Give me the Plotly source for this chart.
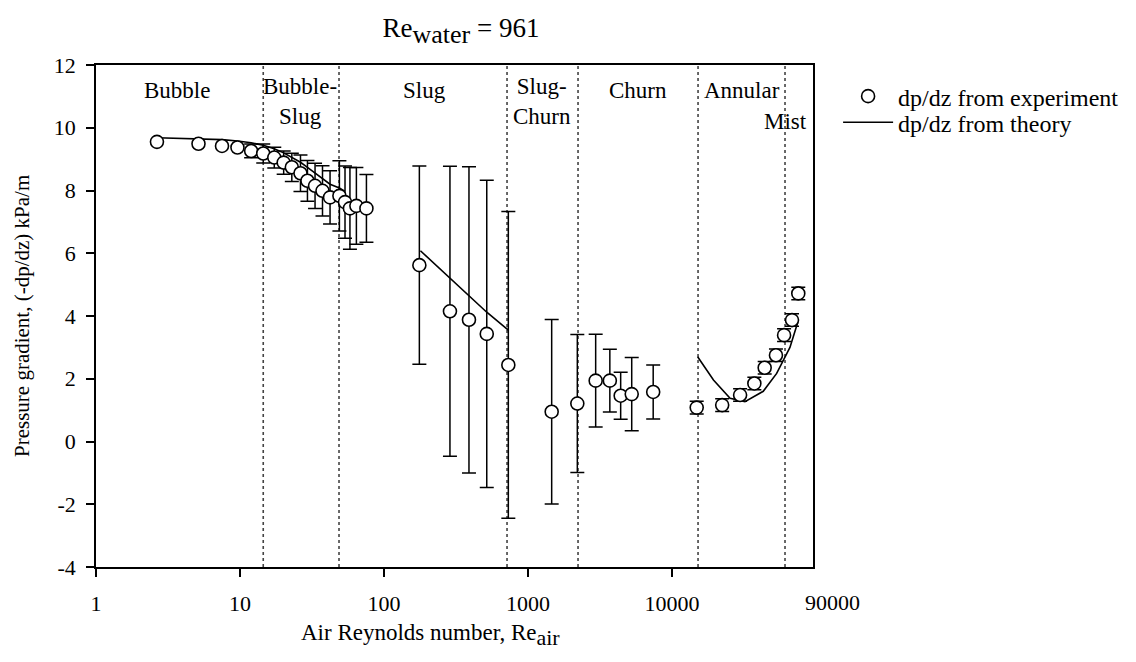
import math
import plotly.graph_objects as go

# ---------------- data ----------------
# experiment, bubble / bubble-slug region (no error bars for the first four)
re_bub_plain = [2.65, 5.15, 7.5, 9.6]
dp_bub_plain = [9.55, 9.49, 9.42, 9.37]

re_bub = [11.95, 14.5, 17.3, 20.1, 22.9, 26.3, 29.4, 33.2, 37.4, 42.2, 49.0, 53.6, 58.0, 64.3, 75.5]
dp_bub = [9.26, 9.18, 9.05, 8.89, 8.74, 8.55, 8.31, 8.15, 7.99, 7.78, 7.83, 7.63, 7.43, 7.51, 7.43]
err_bub = [0.22, 0.30, 0.33, 0.37, 0.45, 0.58, 0.65, 0.72, 0.80, 0.85, 1.12, 1.15, 1.30, 1.22, 1.08]

# slug region
re_slug = [176, 287, 389, 517, 730]
dp_slug = [5.62, 4.15, 3.88, 3.43, 2.44]
err_slug = [3.16, 4.62, 4.88, 4.90, 4.89]

# slug-churn / churn region
re_churn = [1460, 2200, 2950, 3700, 4400, 5250, 7400]
dp_churn = [0.95, 1.21, 1.94, 1.94, 1.46, 1.51, 1.58]
err_churn = [2.94, 2.20, 1.48, 1.00, 0.75, 1.17, 0.86]

# annular / mist region
re_ann = [14840, 22300, 29700, 37300, 44000, 52700, 60000, 68100, 75300]
dp_ann = [1.08, 1.16, 1.48, 1.85, 2.35, 2.75, 3.39, 3.87, 4.72]
err_ann = [0.2, 0.2, 0.2, 0.2, 0.2, 0.2, 0.2, 0.2, 0.2]

# theory curves
re_th_bub = [2.65, 5.15, 7.5, 9.6, 11.95, 14.5, 17.3, 20.1, 22.9, 26.3, 29.4, 33.2, 37.4, 42.2, 49.0, 53.6]
dp_th_bub = [9.68, 9.65, 9.62, 9.58, 9.52, 9.44, 9.33, 9.20, 9.06, 8.90, 8.74, 8.56, 8.38, 8.20, 8.08, 7.97]
re_th_slug = [179, 287, 389, 517, 730]
dp_th_slug = [6.08, 5.20, 4.65, 4.12, 3.55]
re_th_ann = [15060, 19400, 25300, 32100, 43000, 53300, 65900, 74600]
dp_th_ann = [2.70, 1.96, 1.38, 1.27, 1.60, 2.17, 3.00, 3.79]

# flow regime boundaries and labels
regime_bounds = [14.5, 48.7, 715, 2225, 15160, 60900]
regime_labels = ["Bubble", "Bubble-<br>Slug", "Slug", "Slug-<br>Churn", "Churn", "Annular", "Mist"]
regime_label_x = [3.65, 26.1, 192, 1250, 5800, 30600, 60900]
regime_label_y = [11.2, 10.83, 11.2, 10.83, 11.2, 11.2, 10.2]

x_tickvals = [1, 10, 100, 1000, 10000]
x_ticktext = ["1", "10", "100", "1000", "10000"]
x_end_label = "90000"
y_tickvals = [-4, -2, 0, 2, 4, 6, 8, 10, 12]
y_ticktext = ["-4", "-2", "0", "2", "4", "6", "8", "10", "12"]

x_title = "Air Reynolds number, Re<sub><span style='font-size:22px'>air</span></sub>"
y_title = "Pressure gradient, (-dp/dz) kPa/m"
chart_title = "Re<sub><span style='font-size:26px'>water</span></sub> = 961"

FONT = "Liberation Serif"
TICK_FS = 22
LAB_FS = 23
LEG_FS = 24

# ---------------- figure ----------------
fig = go.Figure()

th_x = re_th_bub + [None] + re_th_slug + [None] + re_th_ann
th_y = dp_th_bub + [None] + dp_th_slug + [None] + dp_th_ann

marker = dict(symbol="circle", size=13, color="white", line=dict(color="black", width=1.6))

fig.add_trace(go.Scatter(x=th_x, y=th_y, mode="lines", line=dict(color="black", width=1.6),
                         name="dp/dz from theory", connectgaps=False, legend="legend2"))

ex_x = re_bub + re_slug + re_churn + re_ann
ex_y = dp_bub + dp_slug + dp_churn + dp_ann
ex_e = err_bub + err_slug + err_churn + err_ann
fig.add_trace(go.Scatter(x=ex_x, y=ex_y, mode="markers", marker=marker,
                         error_y=dict(type="data", array=ex_e, visible=True, color="black",
                                      thickness=1.5, width=7),
                         name="dp/dz from experiment", legend="legend"))
fig.add_trace(go.Scatter(x=re_bub_plain, y=dp_bub_plain, mode="markers", marker=marker,
                         showlegend=False))

for b in regime_bounds:
    fig.add_shape(type="line", xref="x", yref="paper", x0=b, x1=b,
                  y0=0, y1=1, line=dict(color="#444", width=1.6, dash="dot"), layer="below")

for t, lx, ly in zip(regime_labels, regime_label_x, regime_label_y):
    fig.add_annotation(x=math.log10(lx), y=ly, xref="x", yref="y", text=t, showarrow=False,
                       font=dict(family=FONT, size=LAB_FS, color="black"), align="center")

fig.add_annotation(xref="paper", yref="paper", x=1, y=0, xanchor="left", yanchor="top",
                   xshift=-10, yshift=-21, text=x_end_label, showarrow=False,
                   font=dict(family=FONT, size=TICK_FS, color="black"))

# axis titles
fig.add_annotation(xref="paper", yref="paper", x=0.466, y=0, xanchor="center", yanchor="middle",
                   yshift=-68, text=x_title, showarrow=False,
                   font=dict(family=FONT, size=23, color="black"))
fig.add_annotation(xref="paper", yref="paper", x=0, y=0.5, xanchor="center", yanchor="middle",
                   xshift=-74, textangle=-90, text=y_title, showarrow=False,
                   font=dict(family=FONT, size=21, color="black"))

W, H = 1128, 654
leg_common = dict(xanchor="left", yanchor="top", bgcolor="rgba(0,0,0,0)", itemwidth=50,
                  font=dict(family=FONT, size=LEG_FS, color="black"))
fig.update_layout(
    width=W, height=H,
    margin=dict(l=88, r=323, t=57, b=95),
    paper_bgcolor="white", plot_bgcolor="white",
    font=dict(family=FONT, size=TICK_FS, color="black"),
    title=dict(text=chart_title, x=453 / W, xanchor="center", y=1 - 20 / H, yanchor="middle",
               font=dict(family=FONT, size=27, color="black")),
    showlegend=True,
    legend=dict(x=1.035, y=0.982, **leg_common),
    legend2=dict(x=1.035, y=0.930, **leg_common),
)
fig.update_xaxes(type="log", range=[0, 4.979], tickvals=x_tickvals, ticktext=x_ticktext,
                 showgrid=False, zeroline=False, showline=True, linecolor="black", linewidth=1.6,
                 mirror=True, ticks="outside", ticklen=8, tickwidth=1.5, tickcolor="black",
                 ticklabelstandoff=8)
fig.update_yaxes(range=[-4, 12], tickvals=y_tickvals, ticktext=y_ticktext, showgrid=False,
                 zeroline=False, showline=True, linecolor="black", linewidth=1.6, mirror=True,
                 ticks="outside", ticklen=8, tickwidth=1.5, tickcolor="black",
                 ticklabelstandoff=6)

fig.write_html("out.html")
